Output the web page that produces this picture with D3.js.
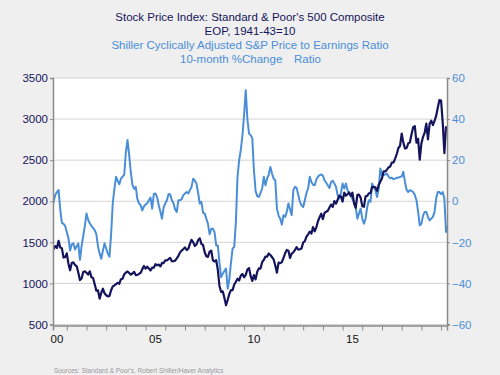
<!DOCTYPE html>
<html>
<head>
<meta charset="utf-8">
<script src="https://cdn.jsdelivr.net/npm/d3@7"></script>
<style>
  body { margin: 0; background: #efefef; }
  svg { display: block; font-family: Arial, "Liberation Sans", sans-serif; }
</style>
</head>
<body>
<script>
const w = 500, h = 375;
const pLeft = 53, pRight = 447, pTop = 78, pBottom = 324.5;

// S&P 500, month end, Apr 2000 .. Apr 2020
const startYear = 2000, startMonth = 3; // April
const spx = [
  1452, 1421, 1455, 1431, 1518, 1437, 1429, 1315, 1320,
  1366, 1240, 1160, 1249, 1256, 1224, 1211, 1134, 1041, 1060, 1139, 1148,
  1130, 1107, 1147, 1076, 1067, 990, 912, 916, 815, 886, 936, 880,
  856, 841, 848, 917, 964, 975, 990, 1008, 996, 1051, 1058, 1112,
  1131, 1145, 1126, 1107, 1121, 1141, 1102, 1104, 1115, 1130, 1174, 1212,
  1181, 1204, 1181, 1157, 1192, 1191, 1234, 1220, 1229, 1207, 1249, 1248,
  1280, 1281, 1295, 1311, 1270, 1270, 1277, 1304, 1336, 1378, 1401, 1418,
  1438, 1407, 1421, 1482, 1531, 1503, 1455, 1474, 1527, 1549, 1481, 1468,
  1379, 1331, 1323, 1386, 1400, 1280, 1267, 1283, 1165, 969, 896, 903,
  826, 735, 798, 873, 919, 919, 987, 1021, 1057, 1036, 1096, 1115,
  1074, 1104, 1169, 1187, 1089, 1031, 1102, 1049, 1141, 1183, 1181, 1258,
  1286, 1327, 1326, 1364, 1345, 1321, 1292, 1219, 1131, 1253, 1247, 1258,
  1312, 1366, 1408, 1398, 1310, 1362, 1379, 1407, 1441, 1412, 1416, 1426,
  1498, 1515, 1569, 1598, 1631, 1606, 1686, 1633, 1682, 1757, 1806, 1848,
  1783, 1859, 1872, 1884, 1924, 1960, 1931, 2003, 1972, 2018, 2068, 2059,
  1995, 2105, 2068, 2086, 2107, 2063, 2104, 1972, 1920, 2079, 2080, 2044,
  1940, 1932, 2060, 2065, 2097, 2099, 2174, 2171, 2168, 2126, 2199, 2239,
  2279, 2364, 2363, 2384, 2412, 2423, 2470, 2472, 2519, 2575, 2648, 2674,
  2824, 2714, 2641, 2648, 2705, 2718, 2816, 2902, 2914, 2712, 2760, 2507,
  2704, 2784, 2834, 2946, 2752, 2942, 2980, 2926, 2977, 3038, 3141, 3231,
  3226, 2954, 2585, 2912
];

// Shiller CAPE, 10-month % change, same months
const cape = [
  -4, 0, 3, 4.5, 5.5, -4, -10.5, -11, -12,
  -15, -18, -24, -21, -20.5, -23.5, -22, -20.5, -28.5, -22, -17, -12,
  -6, -9, -10.7, -12, -13, -14, -16, -22, -25.5, -28, -24, -20.5,
  -23, -25.5, -27, -16, -1, 6, 11.9, 10, 8.3, 11, 12, 13,
  24, 29.8, 22.5, 14, 8, 6, 7, 1, -1, -2, -4.5, -2.5,
  -1.5, -1, 0.5, 1.8, -3.6, 3.5, 3.8, 2, -2, -5, -8.5, -3,
  -1, 0.5, 3.5, 3.3, 0.5, -1, -4, -5.2, 0.5, 0.5, 1, 3,
  3.8, 4.5, 3.8, 5.4, 7, 11, 10, 8.6, 4, -1.1, -0.3, -5.5,
  -6, -8.5, -11, -16, -13.5, -13.3, -15, -21.5, -21.5, -30, -36.9, -35.3,
  -34, -32.8, -42.6, -38, -30, -23, -22.3, -10, 12, 20, 25, 32,
  42, 54, 40, 33, 32.2, 30.6, 15, 5, 2.5, 2.1, 4, 6.2,
  11.9, 7.8, 11, 13, 16.7, 13.5, 11, 10.2, -3.6, -7, -8.5, -11.4,
  -6.8, -7.6, -5.2, -1.1, -4, -6.8, 5.4, 7, 6.5, 3, -0.3, -2,
  -2.8, 0.5, 4, 6.2, 11.9, 9.4, 8, 7.8, 10.5, 12, 12.7, 13,
  12.5, 10.2, 9, 7.8, 6.5, 9.4, 10, 8.6, 7, 2.9, 1.3, 4,
  8.6, 6.2, 8.6, 5.4, 4, 2.9, 1, -0.3, -3, -8.5, -6, -3.6,
  -8.5, -10.9, -8.5, -2.8, 0.5, -0.3, 8.6, 7, 5.4, 2.1, 6.2, 15.9,
  12.7, 12.7, 13, 13.5, 12, 11.1, 11.5, 10.7, 11, 11.5, 11.5, 11.9,
  12, 14.3, 9.4, 5.5, 4.5, 5.4, 5, 4.5, 3, 0.5, -5, -11.7,
  -11, -7, -5.2, -5.2, -7.6, -9.3, -8.5, -7.6, -5.2, 1.3, 4.5, 4.5,
  3.5, 4.5, 1.3, -15, -12
];

const leftTicks = [500, 1000, 1500, 2000, 2500, 3000, 3500];
const rightTicks = [-60, -40, -20, 0, 20, 40, 60];
const yearTicks = d3.range(2001, 2021);
const yearLabels = [[2000, '00'], [2005, '05'], [2010, '10'], [2015, '15']];

const navy = '#14145c', blue = '#4a8ed8';

const svg = d3.select('body').append('svg').attr('width', w).attr('height', h);
svg.append('rect').attr('width', w).attr('height', h).attr('fill', '#efefef');
svg.append('rect').attr('x', pLeft).attr('y', pTop).attr('width', pRight - pLeft).attr('height', pBottom - pTop).attr('fill', '#fff');

const x = d3.scaleLinear().domain([2000.3, 2020.3]).range([pLeft, pRight]);
const yL = d3.scaleLinear().domain([500, 3500]).range([pBottom, pTop]);
const yR = d3.scaleLinear().domain([-60, 60]).range([pBottom, pTop]);
const t = i => startYear + (startMonth + i) / 12;

// grid
svg.append('g').selectAll('line').data(leftTicks).enter().append('line')
  .attr('x1', pLeft).attr('x2', pRight)
  .attr('y1', d => yL(d)).attr('y2', d => yL(d))
  .attr('stroke', '#d4d4d4').attr('stroke-width', 1);

svg.append('defs').append('clipPath').attr('id', 'clip')
  .append('rect').attr('x', pLeft).attr('y', pTop - 5).attr('width', pRight - pLeft).attr('height', pBottom - pTop + 10);

const plot = svg.append('g').attr('clip-path', 'url(#clip)');
plot.append('path').datum(cape)
  .attr('d', d3.line().x((d, i) => x(t(i))).y(d => yR(d)))
  .attr('fill', 'none').attr('stroke', blue).attr('stroke-width', 2).attr('stroke-linejoin', 'round');
plot.append('path').datum(spx)
  .attr('d', d3.line().x((d, i) => x(t(i))).y(d => yL(d)))
  .attr('fill', 'none').attr('stroke', navy).attr('stroke-width', 2.2).attr('stroke-linejoin', 'round');

// axes
const la = svg.append('g').attr('transform', `translate(${pLeft},0)`)
  .call(d3.axisLeft(yL).tickValues(leftTicks).tickSize(3).tickPadding(2).tickFormat(d3.format('d')));
la.selectAll('text').attr('fill', navy).style('font-size', '11.5px');

const ra = svg.append('g').attr('transform', `translate(${pRight},0)`)
  .call(d3.axisRight(yR).tickValues(rightTicks).tickSize(3).tickPadding(2).tickFormat(d3.format('d')));
ra.selectAll('text').attr('fill', blue).style('font-size', '11.5px');

const ba = svg.append('g').attr('transform', `translate(0,${pBottom + 1})`)
  .call(d3.axisBottom(x).tickValues(yearTicks).tickSize(5).tickFormat(''));

[la, ra, ba].forEach(a => {
  a.select('.domain').attr('stroke', '#8a8a8a').attr('stroke-width', 1.5);
  a.selectAll('.tick line').attr('stroke', '#8a8a8a');
});

svg.append('g').selectAll('text').data(yearLabels).enter().append('text')
  .attr('x', d => x(d[0] + 0.5)).attr('y', 343)
  .attr('text-anchor', 'middle').attr('fill', '#111').style('font-size', '11.5px')
  .text(d => d[1]);

// titles
const titles = [
  ['Stock Price Index: Standard & Poor\'s 500 Composite', 21, navy],
  ['EOP, 1941-43=10', 35, navy],
  ['Shiller Cyclically Adjusted S&P Price to Earnings Ratio', 49, blue]
];
svg.append('g').selectAll('text').data(titles).enter().append('text')
  .attr('x', 250).attr('y', d => d[1]).attr('text-anchor', 'middle')
  .attr('fill', d => d[2]).style('font-size', '11.5px').text(d => d[0]);
svg.append('text').attr('x', 180).attr('y', 63).attr('fill', blue).style('font-size', '11.5px').text('10-month %Change');
svg.append('text').attr('x', 294).attr('y', 63).attr('fill', blue).style('font-size', '11.5px').text('Ratio');

svg.append('text').attr('x', 54).attr('y', 373).attr('fill', '#9a9a9a').style('font-size', '6.5px')
  .text('Sources:  Standard & Poor\'s, Robert Shiller/Haver Analytics');
</script>
</body>
</html>
